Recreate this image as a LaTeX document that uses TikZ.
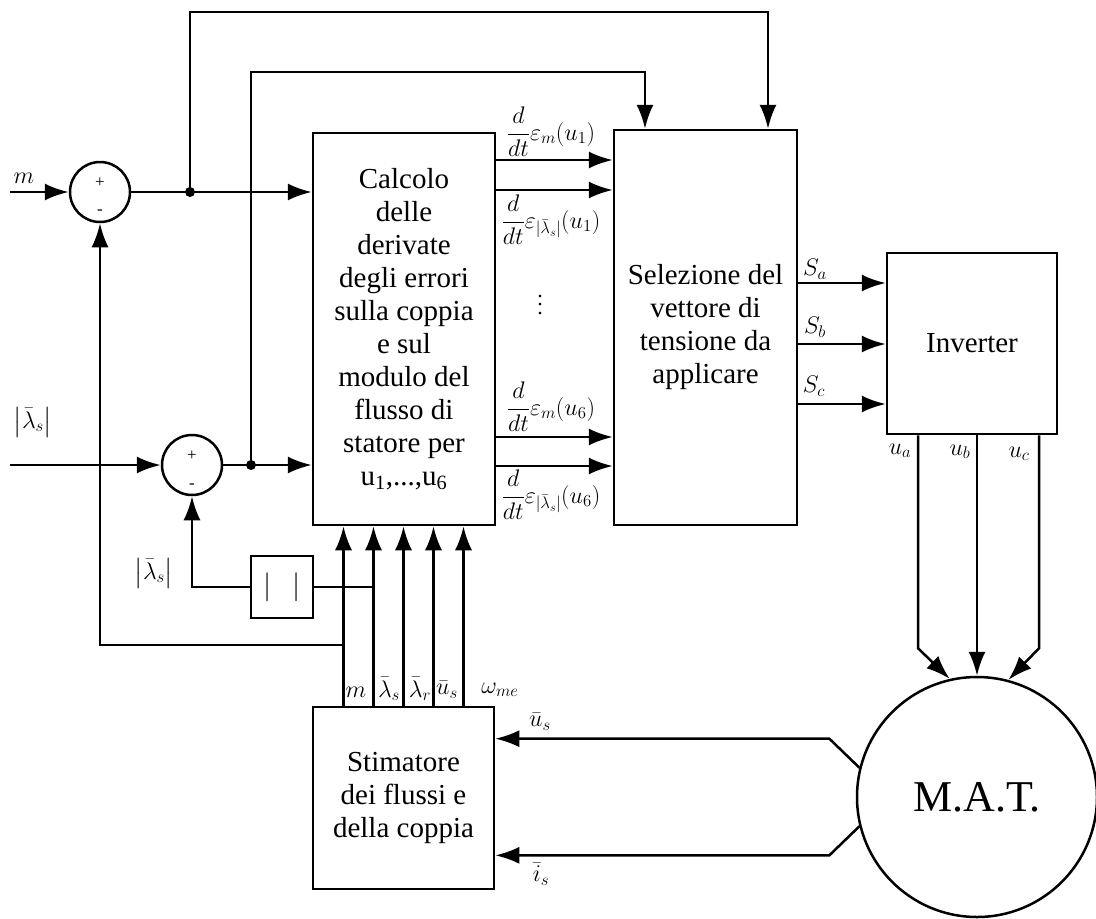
\RequirePackage{fix-cm}
\documentclass[tikz,border=0pt]{standalone}
\usepackage{amsmath}
\usepackage{fontspec}
\setmainfont{Liberation Serif}
\usetikzlibrary{arrows.meta, positioning}

\begin{document}
\begin{tikzpicture}[x=1pt, y=-1pt, line width=2.5pt,
  block/.style={draw, rectangle, align=center, inner sep=0pt, font=\fontsize{29}{33}\selectfont},
  sumnode/.style={draw, circle, minimum size=60pt, inner sep=0pt},
  sgn/.style={font=\fontsize{17}{17}\selectfont},
  lbl/.style={font=\fontsize{24}{27}\selectfont},
  sig/.style={-{Latex[length=24pt,width=17pt]}}]
\useasboundingbox (0,0) rectangle (1096,919);

\node[block, minimum width=182pt, minimum height=392pt] (calc) at (404,329)
  {Calcolo\\delle\\derivate\\degli errori\\sulla coppia\\e sul\\modulo del\\flusso di\\statore per\\u\textsubscript{1},...,u\textsubscript{6}};
\node[block, minimum width=183pt, minimum height=395pt] (sel) at (705.5,327.5)
  {Selezione del\\vettore di\\tensione da\\applicare};
\node[block, minimum width=170pt, minimum height=181pt] (inv) at (972,343.5) {Inverter};
\node[block, minimum width=181pt, minimum height=182pt] (est) at (403.5,798)
  {Stimatore\\dei flussi e\\della coppia};
\node[block, minimum size=62pt] (abs) at (282,587) {$|\;\;\,|$};
\node[draw, circle, minimum size=240pt, inner sep=0pt, font=\fontsize{44}{48}\selectfont] (mat) at (977,797) {M.A.T.};

\node[sumnode] (sumM) at (100,192) {};
\node[sgn] at (100,183) {+};
\node[sgn] at (100,212) {-};
\node[sumnode] (sumL) at (192,465) {};
\node[sgn] at (192,456) {+};
\node[sgn] at (192,486) {-};

\coordinate (inM) at (10,192);
\coordinate (inL) at (10,465);
\coordinate (jm) at (190,192);
\coordinate (jl) at (251,465);
\coordinate (topM) at (768,12);
\coordinate (topL) at (645,72);

\draw[sig] (inM) -- (sumM);
\draw[sig] (sumM) -- (sumM -| calc.west);
\draw[sig] (jm) |- (topM) -- (topM |- sel.north);
\draw[sig] (inL) -- (sumL);
\draw[sig] (sumL) -- (sumL -| calc.west);
\draw[sig] (jl) |- (topL) -- (topL |- sel.north);
\fill (jm) circle (5pt);
\fill (jl) circle (5pt);

\foreach \dx [count=\i] in {-60,-30,0,30,60} {
  \coordinate (o\i) at ([xshift=\dx pt]est.north);
  \draw[sig] (o\i) -- (o\i |- calc.south);
}
\coordinate (fbm) at (o1 |- 0,645);
\coordinate (fbl) at (o2 |- abs.east);
\draw[sig] (fbm) -| (sumM.south);
\draw (fbl) -- (abs.east);
\draw[sig] (abs.west) -| (sumL.south);

\foreach \y [count=\i] in {160,190,437,466} {
  \coordinate (dv\i) at (0,\y);
  \draw[sig] (dv\i -| calc.east) -- (dv\i -| sel.west);
}
\foreach \y [count=\i] in {283,344,404} {
  \coordinate (sw\i) at (0,\y);
  \draw[sig] (sw\i -| sel.east) -- (sw\i -| inv.west);
}

\draw[sig] ([xshift=-54pt]inv.south) -- ++(0,213) -- (mat.103);
\draw[sig] (inv.south -| mat.north) -- (mat.north);
\draw[sig] ([xshift=67pt]inv.south) -- ++(0,213) -- (mat.75);

\draw[sig] (mat.166) -- ++(-30,-29) coordinate (bu) -- (bu -| est.east);
\draw[sig] (mat.194) -- ++(-30,29) coordinate (bi) -- (bi -| est.east);

\node[lbl] at (24,178) {$m$};
\node[lbl] at (33,422) {$\left|\bar{\lambda}_s\right|$};
\node[lbl] at (154,573) {$\left|\bar{\lambda}_s\right|$};
\node[lbl] at (551,132) {$\dfrac{d}{dt}\varepsilon_m(u_1)$};
\node[lbl] at (551,220) {$\dfrac{d}{dt}\varepsilon_{|\bar{\lambda}_s|}(u_1)$};
\node[align=center, inner sep=0pt, font=\fontsize{22}{8.5}\selectfont] at (540,305) {.\\.\\.};
\node[lbl] at (551,407) {$\dfrac{d}{dt}\varepsilon_m(u_6)$};
\node[lbl] at (551,495) {$\dfrac{d}{dt}\varepsilon_{|\bar{\lambda}_s|}(u_6)$};
\node[lbl] at (815,269) {$S_a$};
\node[lbl] at (815,327) {$S_b$};
\node[lbl] at (814,386) {$S_c$};
\node[lbl] at (900,451) {$u_a$};
\node[lbl] at (960,452) {$u_b$};
\node[lbl] at (1019,454) {$u_c$};
\node[lbl] at (356,692) {$m$};
\node[lbl] at (389,689) {$\bar{\lambda}_s$};
\node[lbl] at (420,689) {$\bar{\lambda}_r$};
\node[lbl] at (447,690) {$\bar{u}_s$};
\node[lbl] at (500,690) {$\omega_{me}$};
\node[lbl] at (540,722) {$\bar{u}_s$};
\node[lbl] at (541,874) {$\bar{i}_s$};
\end{tikzpicture}
\end{document}
